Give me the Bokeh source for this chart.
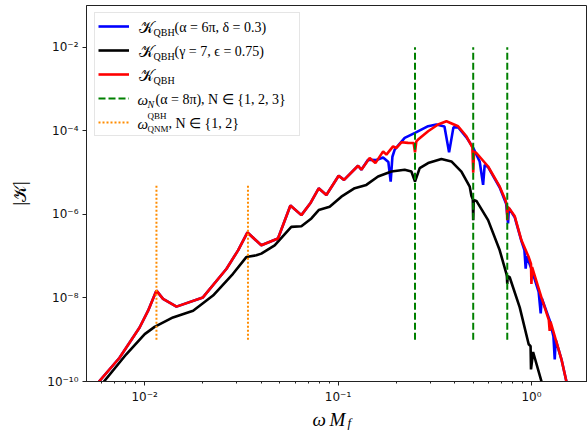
from bokeh.plotting import figure
from bokeh.layouts import column
from bokeh.models import (Range1d, FixedTicker, CustomJSTickFormatter, Legend,
                          LegendItem, Label)
from bokeh.embed import file_html
from bokeh.resources import INLINE

# ---------------- data ----------------
red_x = [0.0055, 0.00573, 0.00741, 0.00941, 0.0104, 0.0115, 0.01244, 0.0146, 0.0200,
         0.0265, 0.0304, 0.0340, 0.0401, 0.0489, 0.0567, 0.0646, 0.0722, 0.0794,
         0.0870, 0.1007, 0.1074, 0.1269, 0.1320, 0.1457, 0.1560, 0.1710, 0.1778,
         0.1925, 0.2003, 0.2126, 0.2301, 0.2460, 0.2500, 0.2540, 0.2594, 0.2922,
         0.3291, 0.3634, 0.4176, 0.4611, 0.4950, 0.5000, 0.5050, 0.5195, 0.5970,
         0.6855, 0.7335, 0.7460, 0.7500, 0.7540, 0.7720, 0.8200, 0.8880, 0.9680,
         0.9950, 1.0000, 1.0080, 1.1260, 1.2300, 1.2430, 1.2550, 1.4300, 1.5170, 1.5500]
red_y = [6.0e-11, 9.3e-11, 3.7e-10, 1.96e-9, 4.9e-9, 1.5e-8, 9.5e-9, 6.2e-9, 1.03e-8,
         5.0e-8, 1.38e-7, 3.7e-7, 1.82e-7, 2.64e-7, 1.63e-6, 9.6e-7, 1.9e-6, 4.2e-6,
         2.9e-6, 8.4e-6, 6.7e-6, 1.46e-5, 1.17e-5, 2.24e-5, 1.69e-5, 3.22e-5, 2.69e-5,
         4.26e-5, 3.89e-5, 5.31e-5, 5.14e-5, 5.1e-5, 3.05e-5, 5.6e-5, 6.17e-5, 9.77e-5,
         1.42e-4, 1.70e-4, 1.29e-4, 7.4e-5, 4.0e-5, 1.0e-5, 3.2e-5, 2.95e-5, 1.40e-5,
         4.6e-6, 2.2e-6, 1.7e-6, 7.3e-7, 1.5e-6, 1.35e-6, 9.0e-7, 2.4e-7, 9.5e-8,
         6.5e-8, 2.17e-8, 5.46e-8, 1.03e-8, 3.0e-9, 1.63e-9, 2.7e-9, 3.4e-10, 1.0e-10, 6.0e-11]

blue_x = [0.0055, 0.00573, 0.00741, 0.00941, 0.0104, 0.0115, 0.01244, 0.0146, 0.0200,
          0.0265, 0.0304, 0.0340, 0.0401, 0.0489, 0.0567, 0.0646, 0.0722, 0.0794,
          0.0870, 0.1007, 0.1074, 0.1269, 0.1320, 0.1429, 0.1578, 0.1710, 0.1820,
          0.1871, 0.1910, 0.1963, 0.2211, 0.2500, 0.2922, 0.3225, 0.3550, 0.3751,
          0.3950, 0.4176, 0.4611, 0.5000, 0.5400, 0.5625, 0.5733, 0.5970, 0.6855,
          0.7400, 0.7570, 0.7650, 0.8200, 0.8880, 0.9200, 0.9340, 0.9450, 1.0000,
          1.0900, 1.1170, 1.1300, 1.2430, 1.3000, 1.3200, 1.3350, 1.4300, 1.5170, 1.5500]
blue_y = [6.0e-11, 9.3e-11, 3.7e-10, 1.96e-9, 4.9e-9, 1.5e-8, 9.5e-9, 6.2e-9, 1.03e-8,
          5.0e-8, 1.38e-7, 3.7e-7, 1.82e-7, 2.64e-7, 1.63e-6, 9.6e-7, 1.9e-6, 4.2e-6,
          2.9e-6, 8.4e-6, 6.7e-6, 1.46e-5, 1.17e-5, 2.03e-5, 2.0e-5, 2.3e-5, 1.8e-5,
          6.1e-6, 2.4e-5, 3.54e-5, 6.78e-5, 8.95e-5, 1.29e-4, 1.42e-4, 1.27e-4, 3.05e-5,
          1.21e-4, 1.22e-4, 7.0e-5, 3.9e-5, 1.85e-5, 5.08e-6, 1.54e-5, 1.35e-5, 4.4e-6,
          1.8e-6, 6.1e-7, 1.4e-6, 8.5e-7, 2.3e-7, 1.4e-7, 5.0e-8, 1.0e-7, 5.0e-8,
          1.4e-8, 4.26e-9, 1.0e-8, 2.9e-9, 1.2e-9, 3.39e-10, 1.0e-9, 3.4e-10, 1.0e-10, 6.0e-11]

black_x = [0.0056, 0.00608, 0.00803, 0.0100, 0.01125, 0.0140, 0.0178, 0.02256, 0.02862,
           0.03353, 0.03779, 0.0401, 0.0470, 0.0573, 0.0646, 0.0728, 0.0794, 0.0905,
           0.1040, 0.1219, 0.1400, 0.1610, 0.1887, 0.2211, 0.2394, 0.2500, 0.2644,
           0.2922, 0.3423, 0.3856, 0.4344, 0.4796, 0.4893, 0.4975, 0.5000, 0.5030,
           0.5195, 0.5970, 0.6855, 0.7425, 0.7465, 0.7500, 0.7535, 0.7720, 0.8700,
           0.9680, 0.9900, 0.9950, 1.0200, 1.1260, 1.1500]
black_y = [6.0e-11, 9.3e-11, 4.48e-10, 1.36e-9, 2.03e-9, 3.41e-9, 4.94e-9, 1.14e-8, 3.79e-8,
           9.51e-8, 1.05e-7, 1.15e-7, 1.82e-7, 5.02e-7, 5.22e-7, 8.01e-7, 1.27e-6, 1.52e-6,
           2.65e-6, 4.23e-6, 5.08e-6, 8.05e-6, 1.06e-5, 1.17e-5, 1.06e-5, 6.1e-6, 1.28e-5,
           1.69e-5, 2.11e-5, 1.85e-5, 1.06e-5, 4.62e-6, 2.8e-6, 2.3e-6, 7.3e-7, 2.2e-6,
           2.1e-6, 7.29e-7, 1.38e-7, 3.79e-8, 3.3e-8, 2.17e-8, 3.3e-8, 3.13e-8, 5.93e-9,
           7.8e-10, 7.0e-10, 1.95e-10, 5.08e-10, 1.02e-10, 6.0e-11]

omega_N = [0.25, 0.5, 0.75]
omega_N_bottom = [1e-9, 1e-9, 1e-9]
omega_N_top = [1e-2, 1e-2, 1e-2]

omega_qnm = [0.0115, 0.0342]
omega_qnm_bottom = [1e-9, 1e-9]
omega_qnm_top = [5e-6, 5e-6]

x_major = [0.01, 0.1, 1.0]
x_minor = [0.006, 0.007, 0.008, 0.009, 0.02, 0.03, 0.04, 0.05, 0.06, 0.07, 0.08, 0.09,
           0.2, 0.3, 0.4, 0.5, 0.6, 0.7, 0.8, 0.9]
y_major = [1e-10, 1e-8, 1e-6, 1e-4, 1e-2]

# ---------------- main figure ----------------
p = figure(width=587, height=407, x_axis_type="log", y_axis_type="log",
           x_range=Range1d(0.005, 1.95), y_range=Range1d(1e-10, 0.1),
           output_backend="svg", toolbar_location=None,
           min_border_left=86, min_border_right=0, min_border_top=5, min_border_bottom=26)
p.grid.visible = False
p.outline_line_color = "#222222"
p.outline_line_width = 1
p.background_fill_color = "white"
p.border_fill_color = "white"

fmt = CustomJSTickFormatter(code="""
const e = Math.round(Math.log10(tick));
const m = {"-":"\u207b","0":"\u2070","1":"\u00b9","2":"\u00b2","3":"\u00b3","4":"\u2074",
           "5":"\u2075","6":"\u2076","7":"\u2077","8":"\u2078","9":"\u2079"};
return "10" + String(e).split("").map(c => m[c]).join("");
""")
p.xaxis.ticker = FixedTicker(ticks=x_major, minor_ticks=x_minor)
p.yaxis.ticker = FixedTicker(ticks=y_major, minor_ticks=[])
for ax in (p.xaxis[0], p.yaxis[0]):
    ax.formatter = fmt
    ax.major_label_text_font = "DejaVu Sans"
    ax.major_label_text_font_size = "12px"
    ax.major_label_text_color = "#111111"
    ax.axis_line_color = "#222222"
    ax.major_tick_line_color = "#222222"
    ax.minor_tick_line_color = "#222222"
    ax.major_tick_in = 0
    ax.major_tick_out = 4
    ax.minor_tick_in = 0
    ax.minor_tick_out = 2
    ax.major_label_standoff = 4

p.yaxis.axis_label = "|\U0001D4A6|"
p.yaxis.axis_label_text_font = "Liberation Serif"
p.yaxis.axis_label_text_font_size = "18px"
p.yaxis.axis_label_text_font_style = "normal"
p.yaxis.axis_label_text_color = "black"
p.yaxis.axis_label_standoff = 14

rb = p.line(blue_x, blue_y, line_color="#0000ff", line_width=2.6)
rk = p.line(black_x, black_y, line_color="black", line_width=2.6)
rr = p.line(red_x, red_y, line_color="#ff0000", line_width=2.6)
rg = p.segment(x0=omega_N, y0=omega_N_bottom, x1=omega_N, y1=omega_N_top,
               line_color="green", line_width=2, line_dash="7 3")
ro = p.segment(x0=omega_qnm, y0=omega_qnm_bottom, x1=omega_qnm, y1=omega_qnm_top,
               line_color="#ff8c00", line_width=2, line_dash="2 2")

legend = Legend(items=[LegendItem(label=" ", renderers=[r]) for r in (rb, rk, rr, rg, ro)],
                location=(8, 245), padding=3, spacing=4, glyph_width=31, glyph_height=20,
                label_height=20, label_width=157, label_standoff=10, margin=0,
                border_line_color="#cccccc", border_line_width=1,
                background_fill_color="white", background_fill_alpha=0.0)
p.add_layout(legend)

FRAME_LEFT, FRAME_BOTTOM = 86, 381  # page coordinates of the frame corner

def txt(fig, text, sx, sy, size, style="normal", baseline="middle"):
    fig.add_layout(Label(x=sx, y=sy, x_units="screen", y_units="screen", text=text,
                         text_font="Liberation Serif", text_font_size=f"{size}px",
                         text_font_style=style, text_baseline=baseline,
                         text_align="left", text_color="black"))

def leg(text, px, py, size, style="normal"):
    txt(p, text, px - FRAME_LEFT, FRAME_BOTTOM - py, size, style)

K = "\U0001D4A6"
rows = [27, 51, 75, 99, 123]
leg(K, 138, rows[0], 16)
leg("QBH", 153, rows[0] + 5, 10)
leg("(α = 6π, δ = 0.3)", 174, rows[0], 14)
leg(K, 138, rows[1], 16)
leg("QBH", 153, rows[1] + 5, 10)
leg("(γ = 7, ϵ = 0.75)", 174, rows[1], 14)
leg(K, 138, rows[2], 16)
leg("QBH", 153, rows[2] + 5, 10)
leg("ω", 137, rows[3], 15, style="italic")
leg("N", 147, rows[3] + 5, 10, style="italic")
leg("(α = 8π), N ∈ {1, 2, 3}", 155, rows[3], 14)
leg("ω", 137, rows[4], 15, style="italic")
leg("QBH", 147, rows[4] - 8, 9)
leg("QNM", 147, rows[4] + 5, 9)
leg(", N ∈ {1, 2}", 168, rows[4], 14)

# ---------------- strip below holding the x-axis title ----------------
p2 = figure(width=587, height=24, x_range=Range1d(0, 1), y_range=Range1d(0, 1),
            x_axis_location=None, y_axis_location=None, output_backend="svg",
            toolbar_location=None, min_border=0)
p2.grid.visible = False
p2.outline_line_color = None
p2.background_fill_color = "white"
p2.border_fill_color = "white"
# frame of this strip is aligned with the main frame (left edge at page x 86)
txt(p2, "ω", 226, 12, 19, style="italic", baseline="alphabetic")
txt(p2, "M", 243, 12, 19, style="italic", baseline="alphabetic")
txt(p2, "f", 261, 9, 13, style="italic", baseline="alphabetic")

open("out.html", "w").write(file_html(column(p, p2, spacing=0), INLINE))
